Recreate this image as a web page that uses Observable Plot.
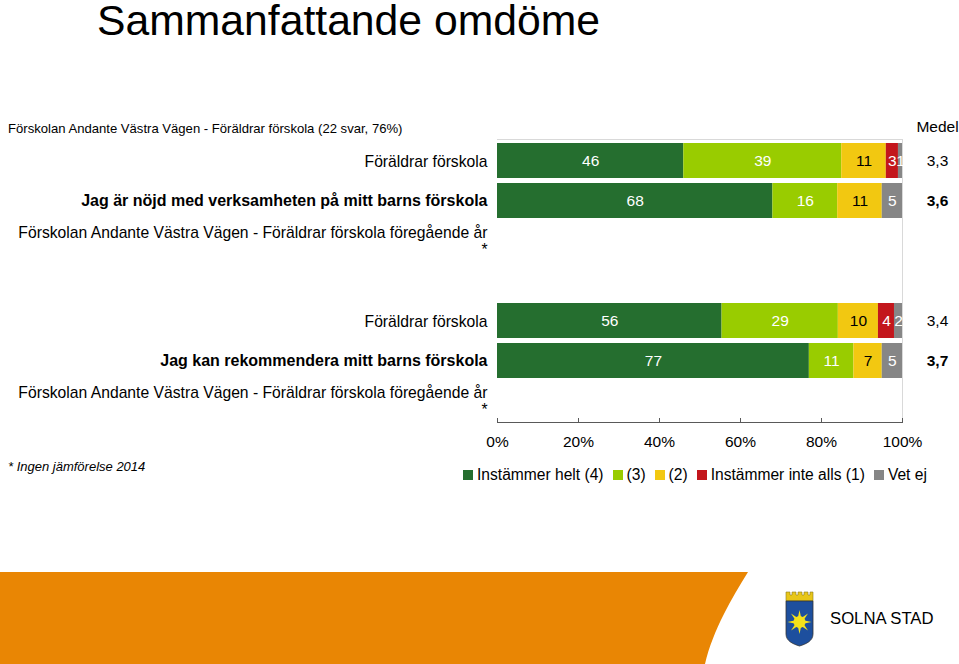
<!DOCTYPE html>
<html>
<head>
<meta charset="utf-8">
<script src="https://cdn.jsdelivr.net/npm/d3@7"></script>
<script src="https://cdn.jsdelivr.net/npm/@observablehq/plot@0.6"></script>
<style>
  html, body { margin: 0; padding: 0; background: #fff; }
  #page { position: relative; width: 959px; height: 664px; overflow: hidden; font-family: "Liberation Sans", Arial, sans-serif; color: #000; }
  #chart { position: absolute; left: 0; top: 0; }
  .abs { position: absolute; white-space: nowrap; }
  #title { left: 97px; top: 0px; font-size: 42.7px; line-height: 40px; padding-top: 0; }
  #subtitle { left: 8px; top: 121px; font-size: 13.1px; }
  #foot { left: 8px; top: 459px; font-size: 13px; font-style: italic; }
  #legend { left: 463px; top: 466px; display: flex; align-items: center; font-size: 15.6px; }
  .item { display: flex; align-items: center; margin-right: 9px; }
  .sw { width: 10px; height: 10px; margin-right: 4px; }
  #band { left: 0; top: 0; }
  #logoText { left: 830px; top: 609px; font-size: 16.7px; }
</style>
</head>
<body>
<div id="page">
  <div id="chart"></div>
  <div id="title" class="abs">Sammanfattande omdöme</div>
  <div id="subtitle" class="abs">Förskolan Andante Västra Vägen - Föräldrar förskola (22 svar, 76%)</div>
  <div id="foot" class="abs">* Ingen jämförelse 2014</div>
  <div id="legend" class="abs"></div>
  <svg id="band" class="abs" width="959" height="664">
    <path d="M0,572 L748,572 C732,598 713,630 705,664 L0,664 Z" fill="#e98604"/>
    <g transform="translate(786,592)">
      <path d="M0,0 L4,0 L4,3 L6,3 L6,0 L10,0 L10,3 L12,3 L12,0 L16,0 L16,3 L18,3 L18,0 L22,0 L22,3 L24,3 L24,0 L27,0 L27,9 L0,9 Z" fill="#e8c619" stroke="#8a7a20" stroke-width="0.6"/>
      <path d="M0,9 L27,9 L27,42 C27,49 20,52 13.5,54 C7,52 0,49 0,42 Z" fill="#1d4f9e" stroke="#333" stroke-width="0.8"/>
      <g transform="translate(13.5,30)" fill="#f4e21a">
        <circle r="6"/>
        <path d="M0,-12 L1.5,-5 L-1.5,-5 Z M0,12 L1.5,5 L-1.5,5 Z M-12,0 L-5,1.5 L-5,-1.5 Z M12,0 L5,1.5 L5,-1.5 Z M8.5,-8.5 L4.5,-2.5 L2.5,-4.5 Z M-8.5,8.5 L-4.5,2.5 L-2.5,4.5 Z M-8.5,-8.5 L-2.5,-4.5 L-4.5,-2.5 Z M8.5,8.5 L2.5,4.5 L4.5,2.5 Z"/>
      </g>
    </g>
  </svg>
  <div id="logoText" class="abs">SOLNA STAD</div>
</div>
<script>
// ---- data ----
const categories = ["Instämmer helt (4)", "(3)", "(2)", "Instämmer inte alls (1)", "Vet ej"];
const colors = ["#256e2f", "#99cc00", "#f2c811", "#c3161c", "#868686"];
const rowLabels = [
  "Föräldrar förskola",
  "Jag är nöjd med verksamheten på mitt barns förskola",
  "Förskolan Andante Västra Vägen - Föräldrar förskola föregående år\n*",
  "",
  "Föräldrar förskola",
  "Jag kan rekommendera mitt barns förskola",
  "Förskolan Andante Västra Vägen - Föräldrar förskola föregående år\n*"
];
const rowBold = [false, true, false, false, false, true, false];
const barRows = [0, 1, 4, 5];
const barValues = [
  [46, 39, 11, 3, 1],
  [68, 16, 11, 0, 5],
  [56, 29, 10, 4, 2],
  [77, 11, 7, 0, 5]
];
const medelValues = ["3,3", "3,6", "3,4", "3,7"];
const medelBold = [false, true, false, true];
const xTicks = [0, 0.2, 0.4, 0.6, 0.8, 1];

// ---- derived tables ----
const rows = d3.range(rowLabels.length);
const bars = barRows.flatMap((r, i) => categories.map((c, j) => ({row: r, cat: c, value: barValues[i][j]})));
const labelsNormal = rows.filter(r => !rowBold[r]).map(r => ({row: r, text: rowLabels[r]}));
const labelsBold = rows.filter(r => rowBold[r]).map(r => ({row: r, text: rowLabels[r]}));
const medel = barRows.map((r, i) => ({row: r, text: medelValues[i], bold: medelBold[i]}));

const W = 959, H = 456, mt = 139, mb = 34, ml = 497, mr = 57;
const frameH = H - mt - mb;

const stackOpts = {x: "value", y: "row", z: "cat", order: categories, offset: "normalize"};

const chart = Plot.plot({
  width: W, height: H,
  marginTop: mt, marginBottom: mb, marginLeft: ml, marginRight: mr,
  style: {fontFamily: "Liberation Sans, Arial, sans-serif", fontSize: "15.5px", color: "#000", background: "transparent", overflow: "visible"},
  x: {domain: [0, 1], axis: null, label: null},
  y: {type: "band", domain: rows, paddingInner: 0.13, paddingOuter: 0.06, axis: null, label: null},
  color: {domain: categories, range: colors},
  marks: [
    Plot.frame({anchor: "top", stroke: "#d9d9d9"}),
    Plot.frame({anchor: "right", stroke: "#d9d9d9"}),
    Plot.barX(bars, Plot.stackX({...stackOpts, fill: "cat"})),
    Plot.text(bars, Plot.stackX({...stackOpts, text: d => (d.value > 0 && d.cat !== "(2)") ? String(d.value) : "", fill: "white"})),
    Plot.text(bars, Plot.stackX({...stackOpts, text: d => (d.value > 0 && d.cat === "(2)") ? String(d.value) : "", fill: "black"})),
    Plot.text(labelsNormal, {y: "row", text: "text", frameAnchor: "left", dx: -10, textAnchor: "end", lineHeight: 1.1, fontSize: 15.7, fill: "#000"}),
    Plot.text(labelsBold, {y: "row", text: "text", frameAnchor: "left", dx: -10, textAnchor: "end", fontWeight: "bold", fontSize: 16, fill: "#000"}),
    Plot.text(medel.filter(d => !d.bold), {y: "row", text: "text", frameAnchor: "right", dx: 35, textAnchor: "middle", fill: "#000"}),
    Plot.text(medel.filter(d => d.bold), {y: "row", text: "text", frameAnchor: "right", dx: 35, textAnchor: "middle", fontWeight: "bold", fill: "#000"}),
    Plot.text(["Medel"], {text: d => d, frameAnchor: "top-right", dx: 35, dy: -19, textAnchor: "middle", fill: "#000"}),
    Plot.gridX(xTicks, {stroke: "#595959", strokeOpacity: 1, insetTop: frameH - 4}),
    Plot.frame({anchor: "bottom", stroke: "#595959"}),
    Plot.axisX(xTicks, {tickSize: 0, tickPadding: 13, tickFormat: d => Math.round(d * 100) + "%", fill: "#000", fontSize: 15.5, label: null})
  ]
});
document.getElementById("chart").appendChild(chart);

// legend
const legend = document.getElementById("legend");
categories.forEach((c, i) => {
  const item = document.createElement("div");
  item.className = "item";
  const sw = document.createElement("div");
  sw.className = "sw";
  sw.style.background = colors[i];
  const t = document.createElement("span");
  t.textContent = c;
  item.appendChild(sw);
  item.appendChild(t);
  legend.appendChild(item);
});
</script>
</body>
</html>
